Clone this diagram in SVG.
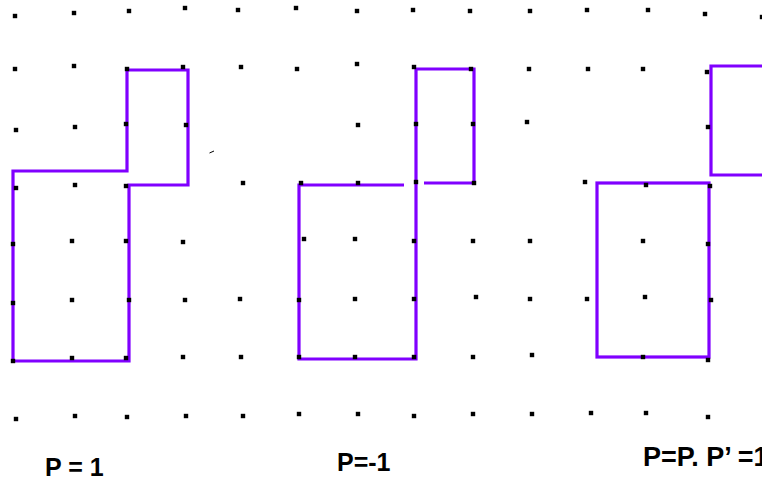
<svg xmlns="http://www.w3.org/2000/svg" xmlns:xlink="http://www.w3.org/1999/xlink" width="762" height="481" viewBox="0 0 762 481">
<style>
.sh{fill:none;stroke:#8000FF;stroke-width:3.2;stroke-linejoin:miter;stroke-linecap:butt}
.lb{font-family:"Liberation Sans",Arial,sans-serif;font-weight:bold;font-size:25px;fill:#000}
</style>
<defs><rect id="d" x="-2.2" y="-2.2" width="4.4" height="4.4" fill="#000"/></defs>
<rect width="762" height="481" fill="#fff"/>
<g id="shapes">
<path id="shape1" class="sh" d="M13,171 H127 V70 H188 V185 H129 V361 H13 Z"/>
<path id="shape2" class="sh" d="M404,185 H299 V359 H416 V69 H474 V183 H424"/>
<rect id="shape3a" class="sh" x="597" y="183" width="112" height="174"/>
<path id="shape3b" class="sh" d="M765,66 H711 V175 H765"/>
</g>
<g id="dots">
<use href="#d" x="15" y="16"/><use href="#d" x="74" y="13"/><use href="#d" x="129" y="11"/><use href="#d" x="185" y="8"/><use href="#d" x="238" y="10"/><use href="#d" x="296" y="8"/><use href="#d" x="357" y="11"/><use href="#d" x="413" y="10"/><use href="#d" x="470" y="11"/><use href="#d" x="530" y="11"/><use href="#d" x="587" y="10"/><use href="#d" x="648" y="10"/><use href="#d" x="705" y="14"/><use href="#d" x="762" y="17"/>
<use href="#d" x="15" y="69"/><use href="#d" x="74" y="66"/><use href="#d" x="127" y="69"/><use href="#d" x="183" y="67"/><use href="#d" x="241" y="67"/><use href="#d" x="297" y="69"/><use href="#d" x="357" y="64"/><use href="#d" x="414" y="67"/><use href="#d" x="471" y="69"/><use href="#d" x="529" y="69"/><use href="#d" x="588" y="69"/><use href="#d" x="643" y="69"/><use href="#d" x="707" y="72"/>
<use href="#d" x="16" y="130"/><use href="#d" x="75" y="127"/><use href="#d" x="126" y="124"/><use href="#d" x="186" y="125"/><use href="#d" x="358" y="125"/><use href="#d" x="416" y="124"/><use href="#d" x="473" y="124"/><use href="#d" x="527" y="122"/><use href="#d" x="708" y="127"/>
<use href="#d" x="16" y="188"/><use href="#d" x="75" y="185"/><use href="#d" x="126" y="186"/><use href="#d" x="243" y="183"/><use href="#d" x="301" y="183"/><use href="#d" x="358" y="183"/><use href="#d" x="416" y="182"/><use href="#d" x="474" y="183"/><use href="#d" x="585" y="182"/><use href="#d" x="646" y="185"/><use href="#d" x="710" y="186"/>
<use href="#d" x="13" y="244"/><use href="#d" x="72" y="241"/><use href="#d" x="126" y="241"/><use href="#d" x="183" y="242"/><use href="#d" x="304" y="239"/><use href="#d" x="355" y="239"/><use href="#d" x="414" y="241"/><use href="#d" x="473" y="241"/><use href="#d" x="530" y="241"/><use href="#d" x="643" y="241"/><use href="#d" x="708" y="244"/>
<use href="#d" x="13" y="303"/><use href="#d" x="72" y="300"/><use href="#d" x="129" y="300"/><use href="#d" x="185" y="300"/><use href="#d" x="240" y="299"/><use href="#d" x="299" y="300"/><use href="#d" x="355" y="299"/><use href="#d" x="414" y="299"/><use href="#d" x="476" y="297"/><use href="#d" x="530" y="299"/><use href="#d" x="587" y="299"/><use href="#d" x="645" y="297"/><use href="#d" x="711" y="300"/>
<use href="#d" x="13" y="361"/><use href="#d" x="72" y="358"/><use href="#d" x="126" y="358"/><use href="#d" x="183" y="357"/><use href="#d" x="241" y="357"/><use href="#d" x="299" y="357"/><use href="#d" x="355" y="357"/><use href="#d" x="414" y="357"/><use href="#d" x="473" y="357"/><use href="#d" x="532" y="355"/><use href="#d" x="643" y="357"/><use href="#d" x="708" y="360"/>
<use href="#d" x="16" y="419"/><use href="#d" x="75" y="416"/><use href="#d" x="127" y="417"/><use href="#d" x="186" y="416"/><use href="#d" x="243" y="416"/><use href="#d" x="299" y="414"/><use href="#d" x="358" y="414"/><use href="#d" x="414" y="416"/><use href="#d" x="473" y="414"/><use href="#d" x="532" y="414"/><use href="#d" x="591" y="413"/><use href="#d" x="646" y="413"/><use href="#d" x="708" y="417"/>
</g>
<path id="mark" d="M209.5,153 L214,151" stroke="#000" stroke-width="1" fill="none"/>
<g id="labels">
<text class="lb" x="45" y="476">P = 1</text>
<text class="lb" x="337" y="471">P=-1</text>
<text class="lb" x="643" y="466" style="font-size:27px">P=P. P’ =1</text>
</g>
</svg>
